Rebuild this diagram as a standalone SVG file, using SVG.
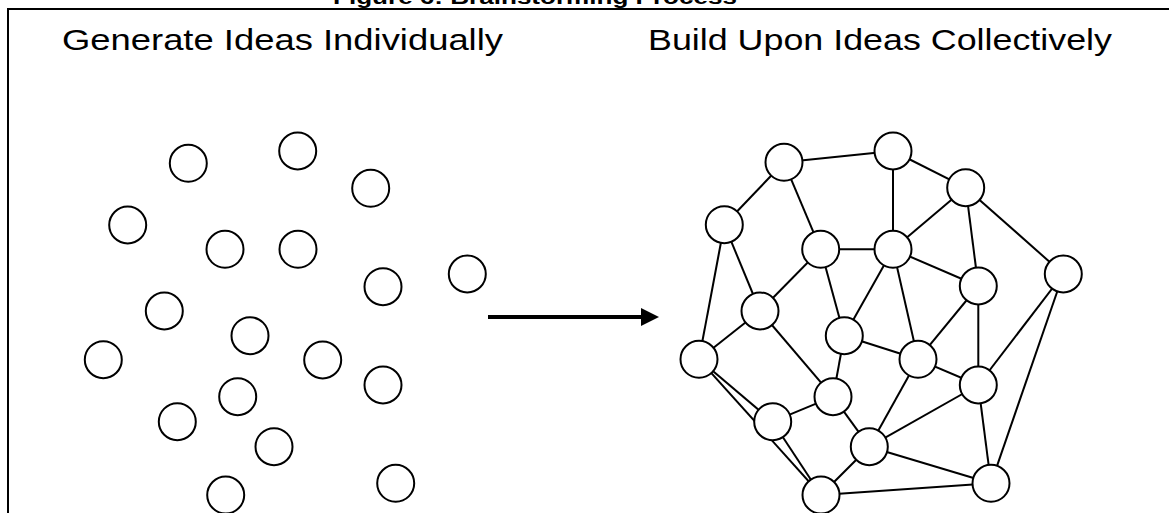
<svg xmlns="http://www.w3.org/2000/svg" width="1169" height="513" viewBox="0 0 1169 513">
  <style>
    .frame { stroke: #000; stroke-width: 2; fill: none; }
    .node { fill: #fff; stroke: #000; stroke-width: 2; }
    .edge { stroke: #000; stroke-width: 2; fill: none; }
    .title { font-family: "Liberation Sans", Arial, sans-serif; font-weight: bold; font-size: 20px; fill: #000; }
    .head { font-family: "Liberation Sans", Arial, sans-serif; font-size: 29px; fill: #000; }
  </style>
  <defs>
    <marker id="arrowhead" markerWidth="5" markerHeight="5" refX="0" refY="2.25" orient="auto" markerUnits="strokeWidth">
      <path d="M0,0 L4.5,2.25 L0,4.5 Z" fill="#000"/>
    </marker>
  </defs>
  <rect x="0" y="0" width="1169" height="513" fill="#fff"/>

  <!-- caption and frame -->
  <text class="title" x="535" y="3.5" text-anchor="middle" textLength="404" lengthAdjust="spacingAndGlyphs">Figure 6: Brainstorming Process</text>
  <path class="frame" d="M8,513 V9 H1169"/>

  <text class="head" x="62" y="50" textLength="441" lengthAdjust="spacingAndGlyphs">Generate Ideas Individually</text>
  <text class="head" x="648" y="50" textLength="464" lengthAdjust="spacingAndGlyphs">Build Upon Ideas Collectively</text>

  <!-- individual ideas -->
  <g id="ideas-left">
    <circle id="i1" class="node" cx="188.3" cy="163.3" r="18.5"/>
    <circle id="i2" class="node" cx="297.7" cy="151" r="18.5"/>
    <circle id="i3" class="node" cx="370.7" cy="188.3" r="18.5"/>
    <circle id="i4" class="node" cx="127.7" cy="225" r="18.5"/>
    <circle id="i5" class="node" cx="225" cy="249.3" r="18.5"/>
    <circle id="i6" class="node" cx="298" cy="249.3" r="18.5"/>
    <circle id="i7" class="node" cx="383" cy="286.7" r="18.5"/>
    <circle id="i8" class="node" cx="467.3" cy="274" r="18.5"/>
    <circle id="i9" class="node" cx="164.3" cy="311" r="18.5"/>
    <circle id="i10" class="node" cx="250" cy="335.7" r="18.5"/>
    <circle id="i11" class="node" cx="103.3" cy="359.7" r="18.5"/>
    <circle id="i12" class="node" cx="322.7" cy="360" r="18.5"/>
    <circle id="i13" class="node" cx="383" cy="385" r="18.5"/>
    <circle id="i14" class="node" cx="237.7" cy="396.7" r="18.5"/>
    <circle id="i15" class="node" cx="177.3" cy="421.7" r="18.5"/>
    <circle id="i16" class="node" cx="274" cy="446.7" r="18.5"/>
    <circle id="i17" class="node" cx="395.7" cy="483.3" r="18.5"/>
    <circle id="i18" class="node" cx="225.7" cy="495" r="18.5"/>
  </g>

  <!-- transition arrow -->
  <g id="arrow">
    <line x1="488" y1="317" x2="641" y2="317" stroke="#000" stroke-width="4" marker-end="url(#arrowhead)"/>
  </g>

  <!-- connected network links -->
  <g id="connectors">
    <line class="edge" x1="784" y1="162.3" x2="893" y2="151"/>
    <line class="edge" x1="893" y1="151" x2="965.7" y2="187.7"/>
    <line class="edge" x1="784" y1="162.3" x2="724.3" y2="224.7"/>
    <line class="edge" x1="784" y1="162.3" x2="820.7" y2="249.3"/>
    <line class="edge" x1="893" y1="151" x2="893" y2="249.3"/>
    <line class="edge" x1="965.7" y1="187.7" x2="893" y2="249.3"/>
    <line class="edge" x1="965.7" y1="187.7" x2="978.3" y2="286"/>
    <line class="edge" x1="965.7" y1="187.7" x2="1063.3" y2="274"/>
    <line class="edge" x1="820.7" y1="249.3" x2="893" y2="249.3"/>
    <line class="edge" x1="724.3" y1="224.7" x2="760" y2="311"/>
    <line class="edge" x1="724.3" y1="224.7" x2="699" y2="359.3"/>
    <line class="edge" x1="820.7" y1="249.3" x2="760" y2="311"/>
    <line class="edge" x1="820.7" y1="249.3" x2="844.3" y2="335.7"/>
    <line class="edge" x1="893" y1="249.3" x2="844.3" y2="335.7"/>
    <line class="edge" x1="893" y1="249.3" x2="918" y2="359.3"/>
    <line class="edge" x1="893" y1="249.3" x2="978.3" y2="286"/>
    <line class="edge" x1="978.3" y1="286" x2="918" y2="359.3"/>
    <line class="edge" x1="978.3" y1="286" x2="978.3" y2="385"/>
    <line class="edge" x1="1063.3" y1="274" x2="978.3" y2="385"/>
    <line class="edge" x1="1063.3" y1="274" x2="991" y2="483.3"/>
    <line class="edge" x1="760" y1="311" x2="699" y2="359.3"/>
    <line class="edge" x1="760" y1="311" x2="833" y2="396.7"/>
    <line class="edge" x1="844.3" y1="335.7" x2="833" y2="396.7"/>
    <line class="edge" x1="844.3" y1="335.7" x2="918" y2="359.3"/>
    <line class="edge" x1="918" y1="359.3" x2="978.3" y2="385"/>
    <line class="edge" x1="918" y1="359.3" x2="869.3" y2="446.7"/>
    <line class="edge" x1="978.3" y1="385" x2="869.3" y2="446.7"/>
    <line class="edge" x1="978.3" y1="385" x2="991" y2="483.3"/>
    <line class="edge" x1="699" y1="359.3" x2="772.7" y2="421.7"/>
    <line class="edge" x1="699" y1="359.3" x2="821" y2="495"/>
    <line class="edge" x1="772.7" y1="421.7" x2="833" y2="396.7"/>
    <line class="edge" x1="772.7" y1="421.7" x2="821" y2="495"/>
    <line class="edge" x1="833" y1="396.7" x2="869.3" y2="446.7"/>
    <line class="edge" x1="869.3" y1="446.7" x2="821" y2="495"/>
    <line class="edge" x1="869.3" y1="446.7" x2="991" y2="483.3"/>
    <line class="edge" x1="821" y1="495" x2="991" y2="483.3"/>
  </g>

  <!-- network nodes -->
  <g id="nA"><circle class="node" cx="784" cy="162.3" r="18.5"/></g>
  <g id="nB"><circle class="node" cx="893" cy="151" r="18.5"/></g>
  <g id="nC"><circle class="node" cx="965.7" cy="187.7" r="18.5"/></g>
  <g id="nD"><circle class="node" cx="724.3" cy="224.7" r="18.5"/></g>
  <g id="nE"><circle class="node" cx="820.7" cy="249.3" r="18.5"/></g>
  <g id="nF"><circle class="node" cx="893" cy="249.3" r="18.5"/></g>
  <g id="nG"><circle class="node" cx="978.3" cy="286" r="18.5"/></g>
  <g id="nH"><circle class="node" cx="1063.3" cy="274" r="18.5"/></g>
  <g id="nI"><circle class="node" cx="760" cy="311" r="18.5"/></g>
  <g id="nJ"><circle class="node" cx="844.3" cy="335.7" r="18.5"/></g>
  <g id="nK"><circle class="node" cx="699" cy="359.3" r="18.5"/></g>
  <g id="nL"><circle class="node" cx="918" cy="359.3" r="18.5"/></g>
  <g id="nM"><circle class="node" cx="978.3" cy="385" r="18.5"/></g>
  <g id="nN"><circle class="node" cx="833" cy="396.7" r="18.5"/></g>
  <g id="nO"><circle class="node" cx="772.7" cy="421.7" r="18.5"/></g>
  <g id="nP"><circle class="node" cx="869.3" cy="446.7" r="18.5"/></g>
  <g id="nQ"><circle class="node" cx="991" cy="483.3" r="18.5"/></g>
  <g id="nR"><circle class="node" cx="821" cy="495" r="18.5"/></g>
</svg>
